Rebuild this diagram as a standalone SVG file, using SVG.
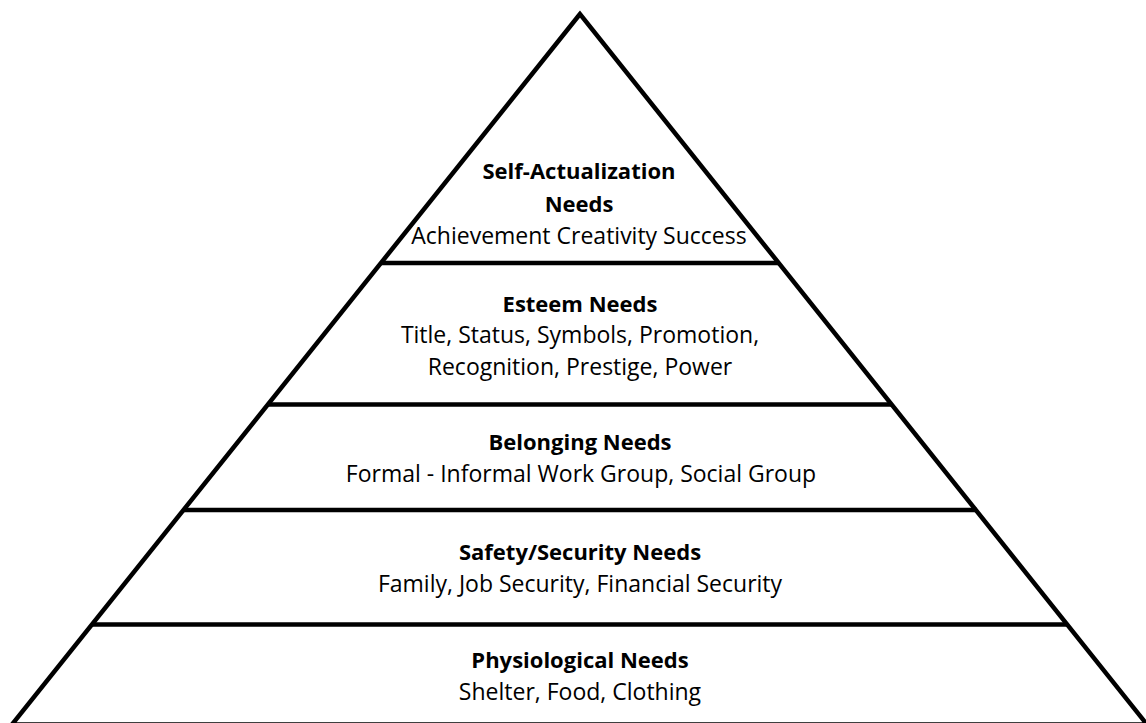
<svg xmlns="http://www.w3.org/2000/svg" width="1146" height="723" viewBox="0 0 1146 723">
<style>
.edge{fill:none;stroke:#000;stroke-width:4.5;stroke-linejoin:miter}
.div{stroke:#000;stroke-width:4.5}
text{font-family:"Open Sans","Noto Sans","Liberation Sans",sans-serif;font-size:23px;fill:#000;text-anchor:middle}
.t{font-weight:bold;font-size:22px}
</style>
<rect width="1146" height="723" fill="#fff"/>
<g id="pyramid">
<polygon class="edge" points="580,14 12,724.5 1147,724.5"/>
</g>
<g id="connectors">
<line class="div" x1="381" y1="263" x2="779" y2="263"/>
<line class="div" x1="268" y1="404.5" x2="892" y2="404.5"/>
<line class="div" x1="183" y1="510" x2="977" y2="510"/>
<line class="div" x1="92" y1="624.5" x2="1067" y2="624.5"/>
</g>
<g id="self-actualization">
<text class="t" x="579" y="179">Self-Actualization</text>
<text class="t" x="579" y="212">Needs</text>
<text x="579" y="244">Achievement Creativity Success</text>
</g>
<g id="esteem">
<text class="t" x="580" y="312">Esteem Needs</text>
<text x="580" y="343">Title, Status, Symbols, Promotion,</text>
<text x="580" y="375">Recognition, Prestige, Power</text>
</g>
<g id="belonging">
<text class="t" x="580" y="450">Belonging Needs</text>
<text x="581" y="482">Formal - Informal Work Group, Social Group</text>
</g>
<g id="safety">
<text class="t" x="580" y="560">Safety/Security Needs</text>
<text x="580" y="592">Family, Job Security, Financial Security</text>
</g>
<g id="physiological">
<text class="t" x="580" y="668">Physiological Needs</text>
<text x="580" y="700">Shelter, Food, Clothing</text>
</g>
</svg>
